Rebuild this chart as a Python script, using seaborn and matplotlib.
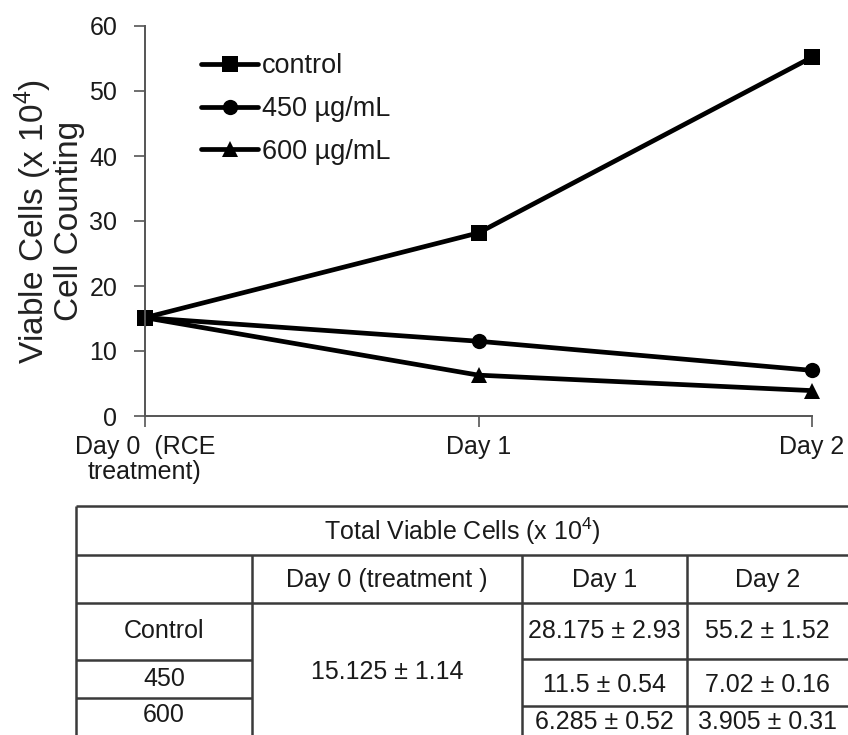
import numpy as np
import pandas as pd
import matplotlib
matplotlib.use("Agg")
import matplotlib.pyplot as plt
import seaborn as sns

# ---------------- data ----------------
days = ["Day 0  (RCE\ntreatment)", "Day 1", "Day 2"]
series_names = ["control", "450 \u00b5g/mL", "600 \u00b5g/mL"]
control = [15.125, 28.175, 55.2]
conc450 = [15.125, 11.5, 7.02]
conc600 = [15.125, 6.285, 3.905]
control_sd = [1.14, 2.93, 1.52]
conc450_sd = [1.14, 0.54, 0.16]
conc600_sd = [1.14, 0.52, 0.31]
yticks = [0, 10, 20, 30, 40, 50, 60]

table_title = "Total Viable Cells (x 10$^4$)"
table_cols = ["Day 0 (treatment )", "Day 1", "Day 2"]
table_rows = ["Control", "450", "600"]

# ---------------- style ----------------
sns.set_theme(style="ticks")
plt.rcParams["font.family"] = ["Liberation Sans", "DejaVu Sans"]
plt.rcParams["mathtext.fontset"] = "custom"
plt.rcParams["mathtext.rm"] = "Liberation Sans"
plt.rcParams["mathtext.it"] = "Liberation Sans"
plt.rcParams["mathtext.default"] = "regular"
TXT = "#1a1a1a"

W, H = 848, 735
fig = plt.figure(figsize=(W / 100, H / 100), dpi=100)

# ---------------- table (pixel coordinate axes) ----------------
tax = fig.add_axes([0, 0, 1, 1])
tax.set_xlim(0, W)
tax.set_ylim(H, 0)
tax.axis("off")
tax.patch.set_visible(False)

LC, LW = "#3a3a3a", 1.8
x_left, x_c1, x_c2, x_c3, x_right = 76, 252, 522, 687, 850
y_top, y_h1, y_h2, y_bot = 506, 555, 603, 740
y_left_rows = [660, 698]
y_right_rows = [659, 706]

tax.hlines([y_top, y_h1, y_h2], x_left, x_right, color=LC, lw=LW)
tax.hlines(y_left_rows, x_left, x_c1, color=LC, lw=LW)
tax.hlines(y_right_rows, x_c2, x_right, color=LC, lw=LW)
tax.vlines(x_left, y_top, y_bot, color=LC, lw=LW)
tax.vlines([x_c1, x_c2, x_c3], y_h1, y_bot, color=LC, lw=LW)

fs_tab = 18
tax.text((x_left + 848) / 2, (y_top + y_h1) / 2 + 1, table_title, ha="center", va="center",
         fontsize=fs_tab, color=TXT)
col_centers = [(x_c1 + x_c2) / 2, (x_c2 + x_c3) / 2, (x_c3 + 848) / 2]
for cx, lab in zip(col_centers, table_cols):
    tax.text(cx, (y_h1 + y_h2) / 2 + 1, lab, ha="center", va="center", fontsize=fs_tab, color=TXT)

row_label_y = [(y_h2 + y_left_rows[0]) / 2, (y_left_rows[0] + y_left_rows[1]) / 2, 715]
for ry, lab in zip(row_label_y, table_rows):
    tax.text((x_left + x_c1) / 2, ry, lab, ha="center", va="center", fontsize=fs_tab, color=TXT)

def fmt(v, s):
    return f"{v:g} \u00b1 {s:g}"

tax.text(col_centers[0], 672, fmt(control[0], control_sd[0]), ha="center", va="center",
         fontsize=fs_tab, color=TXT)
val_y = [(y_h2 + y_right_rows[0]) / 2, (y_right_rows[0] + y_right_rows[1]) / 2 + 2, 722]
for ry, vals, sds in zip(val_y, [control, conc450, conc600], [control_sd, conc450_sd, conc600_sd]):
    for j in (1, 2):
        tax.text(col_centers[j], ry, fmt(vals[j], sds[j]), ha="center", va="center",
                 fontsize=fs_tab, color=TXT)

# ---------------- line chart ----------------
ax = fig.add_axes([145 / W, (H - 416) / H, (812 - 145) / W, (416 - 26) / H])
ax.patch.set_visible(False)

df = pd.DataFrame({
    "day": list(range(len(days))) * 3,
    "cells": control + conc450 + conc600,
    "group": [n for n in series_names for _ in days],
})

sns.lineplot(
    data=df, x="day", y="cells", hue="group", style="group",
    hue_order=series_names[::-1], style_order=series_names[::-1],
    palette={n: "black" for n in series_names},
    markers={series_names[0]: "s", series_names[1]: "o", series_names[2]: "^"},
    dashes=False, linewidth=3.4, markersize=11, markeredgewidth=0,
    ax=ax,
)
for ln in ax.lines:
    ln.set_clip_on(False)

ax.set_xlim(0, 2)
ax.set_ylim(0, 60)
ax.set_xticks(range(len(days)))
ax.set_xticklabels(days, fontsize=18, color=TXT, linespacing=1.05)
ax.set_yticks(yticks)
ax.set_yticklabels([str(t) for t in yticks], fontsize=18, color=TXT)
ax.tick_params(axis="both", direction="out", length=8, width=1.2, color="#555555")
ax.tick_params(axis="y", pad=12)
ax.tick_params(axis="x", pad=6)
for s in ("top", "right"):
    ax.spines[s].set_visible(False)
for s in ("left", "bottom"):
    ax.spines[s].set_color("#555555")
    ax.spines[s].set_linewidth(1.4)

ax.set_xlabel("")
ax.set_ylabel("Viable Cells (x 10$^4$)\nCell Counting", fontsize=24, color="#222222",
              linespacing=1.0, labelpad=3)

handles, labels = ax.get_legend_handles_labels()
order = [labels.index(n) for n in series_names]
leg = ax.legend([handles[i] for i in order], [labels[i] for i in order],
                loc="upper left", bbox_to_anchor=(0.068, 0.958), frameon=False,
                fontsize=19.5, handlelength=2.1, handletextpad=0.15, labelspacing=0.62,
                borderaxespad=0)
for t in leg.get_texts():
    t.set_color(TXT)

fig.savefig("out.png", dpi=100)
